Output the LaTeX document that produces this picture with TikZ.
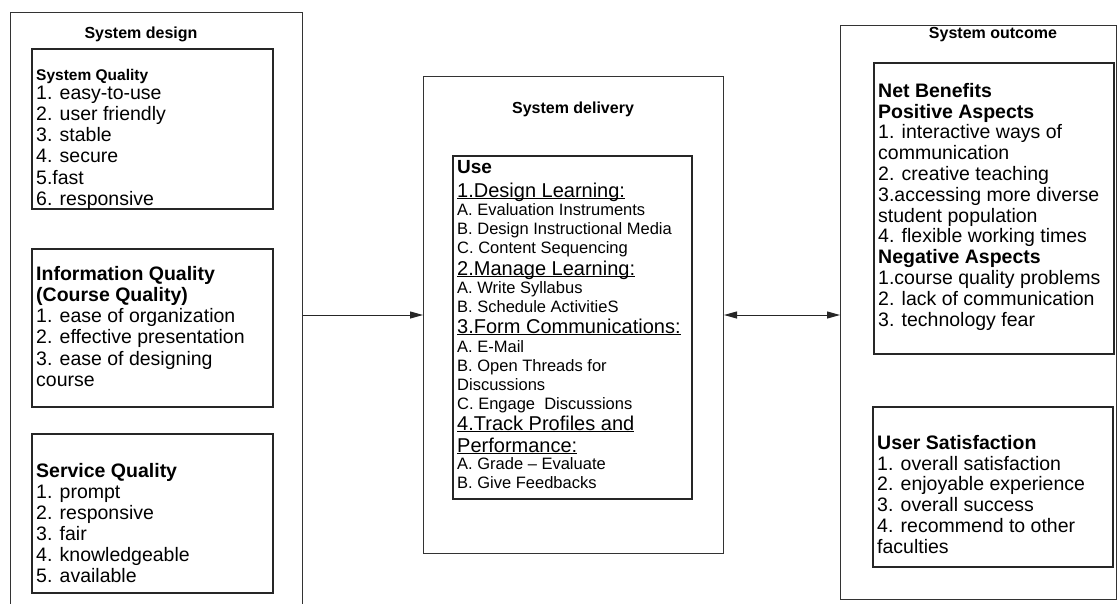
\documentclass[tikz,border=0pt]{standalone}
\usepackage{fontspec}
\setmainfont{Liberation Sans}
\usepackage{tikz}
\usetikzlibrary{arrows.meta}

\newcommand{\topstrut}{\rule{0pt}{16pt}}
\newcommand{\learnhead}[1]{{\fontsize{20}{22}\selectfont\underline{\smash{#1}}}}

\begin{document}
\begin{tikzpicture}[x=1pt,y=-1pt,
    outerbox/.style={draw=black!80,line width=1pt,inner sep=0pt,anchor=north west},
    innerbox/.style={draw=black!85,line width=1.6pt},
    title/.style={font=\fontsize{16}{18}\selectfont\bfseries,anchor=base},
    listtext/.style={align=left,anchor=north west,inner sep=0pt,font=\fontsize{19.5}{21.2}\selectfont},
    link/.style={draw=black!85,line width=1pt,-{Triangle[length=13pt,width=7pt]}},
    dlink/.style={draw=black!85,line width=1pt,{Triangle[length=13pt,width=7pt]}-{Triangle[length=13pt,width=7pt]}}]

      \path[fill=white,use as bounding box] (0,0) rectangle (1117,603);

      % system design
      \node[outerbox,minimum width=292pt,minimum height=593pt] (design) at (10,12) {};
      \node[title] (designtitle) at (141,38) {System design};
      \draw[innerbox] (32,49) rectangle (273,209);
      \node[listtext] (sysq) at (36,64) {\topstrut{\fontsize{15.5}{17}\selectfont\bfseries System Quality}\\[-2.2pt]
        1. easy-to-use\\ 2. user friendly\\ 3. stable\\ 4. secure\\ 5.fast\\ 6. responsive};
      \draw[innerbox] (32,249) rectangle (273,407);
      \node[listtext] (infoq) at (36,264) {\topstrut\textbf{Information Quality}\\ \textbf{(Course Quality)}\\
        1. ease of organization\\ 2. effective presentation\\ 3. ease of designing\\ course};
      \draw[innerbox] (32,434) rectangle (273,593);
      \node[listtext,font=\fontsize{19.5}{21}\selectfont] (servq) at (36,461) {\topstrut\textbf{Service Quality}\\
        1. prompt\\ 2. responsive\\ 3. fair\\ 4. knowledgeable\\ 5. available};

      % system delivery
      \node[outerbox,minimum width=300pt,minimum height=477pt] (delivery) at (423,76) {};
      \node[title] (deliverytitle) at (573,113) {System delivery};
      \draw[innerbox] (453,156) rectangle (692,499);
      \node[listtext,font=\fontsize{16.5}{19}\selectfont] (usetext) at (457,157) {%
        \topstrut{\fontsize{19}{21}\selectfont\bfseries Use}\\[5pt]
        \learnhead{1.Design Learning:}\\[-1pt]
        A. Evaluation Instruments\\
        B. Design Instructional Media\\
        C. Content Sequencing\\[3pt]
        \learnhead{2.Manage Learning:}\\[-1pt]
        A. Write Syllabus\\
        B. Schedule ActivitieS\\[2pt]
        \learnhead{3.Form Communications:}\\
        A. E-Mail\\
        B. Open Threads for\\
        Discussions\\
        C. Engage\ \ Discussions\\[2pt]
        \learnhead{4.Track Profiles and}\\[3pt]
        \learnhead{Performance:}\\[-2pt]
        A. Grade -- Evaluate\\
        B. Give Feedbacks};

      % system outcome
      \node[outerbox,minimum width=276pt,minimum height=574pt] (outcome) at (840,25) {};
      \node[title] (outcometitle) at (993,38) {System outcome};
      \draw[innerbox] (874,63) rectangle (1114,354);
      \node[listtext,font=\fontsize{19.5}{20.8}\selectfont] (netb) at (878,81) {\topstrut\textbf{Net Benefits}\\
        \textbf{Positive Aspects}\\ 1. interactive ways of\\ communication\\ 2. creative teaching\\
        3.accessing more diverse\\ student population\\ 4. flexible working times\\
        \textbf{Negative Aspects}\\ 1.course quality problems\\ 2. lack of communication\\ 3. technology fear};
      \draw[innerbox] (873,407) rectangle (1113,567);
      \node[listtext,font=\fontsize{19.5}{20.8}\selectfont] (usersat) at (877,433) {\topstrut\textbf{User Satisfaction}\\
        1. overall satisfaction\\ 2. enjoyable experience\\ 3. overall success\\
        4. recommend to other\\ faculties};

      % connectors
      \draw[link] (design.east |- delivery.west) -- (delivery.west);
      \draw[dlink] (delivery.east) -- (outcome.west |- delivery.east);
\end{tikzpicture}
\end{document}
